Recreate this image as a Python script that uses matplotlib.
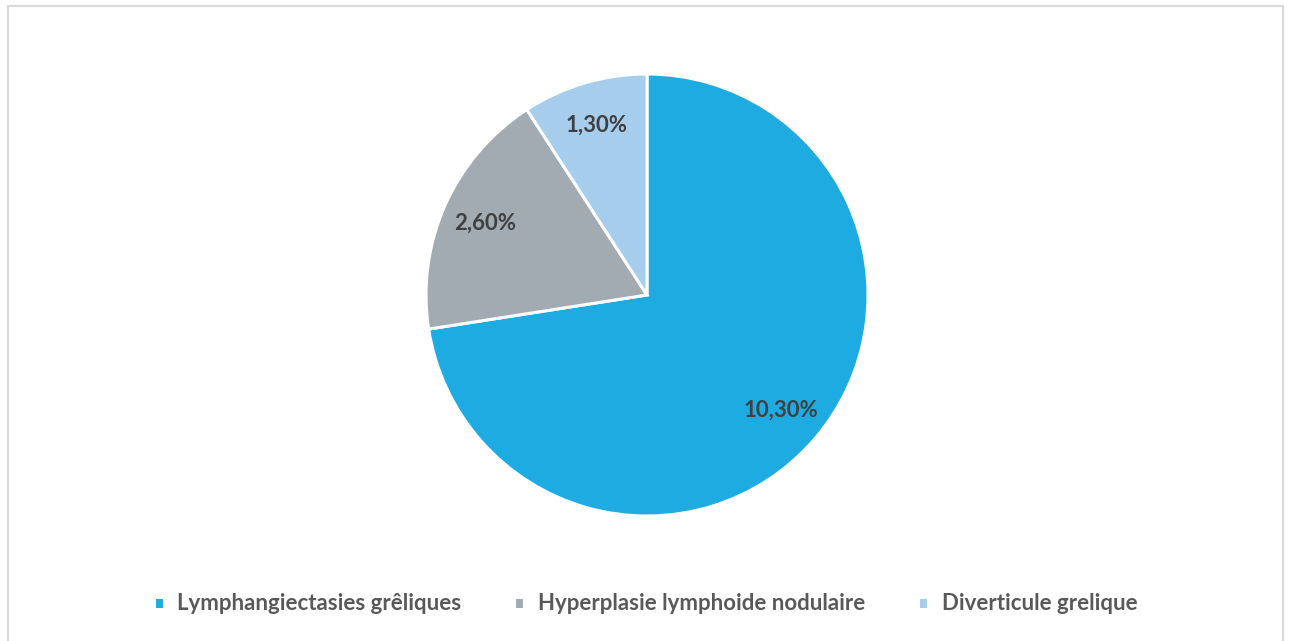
import matplotlib.pyplot as plt
from matplotlib.patches import Rectangle

# --- chart data ---
categories = ["Lymphangiectasies grêliques", "Hyperplasie lymphoide nodulaire", "Diverticule grelique"]
values = [10.30, 2.60, 1.30]
colors = ["#1DABE2", "#A2ABB1", "#A6CDEC"]

W, H = 1291, 641
plt.rcParams["font.family"] = ["Lato", "DejaVu Sans"]

fig = plt.figure(figsize=(W / 100, H / 100), dpi=100)

# light gray chart frame
fig.patches.append(Rectangle((8 / W, -0.01), (1283 - 8) / W, (H - 6) / H + 0.01,
                             transform=fig.transFigure, fill=False,
                             edgecolor="#D9D9D9", linewidth=1.5))

cx, cy, r = 647, 295, 221
ax = fig.add_axes([(cx - r) / W, (H - cy - r) / H, 2 * r / W, 2 * r / H])

total = sum(values)
wedges, texts, autotexts = ax.pie(
    values,
    colors=colors,
    startangle=90,
    counterclock=False,
    radius=1.0,
    autopct=lambda p: f"{p * total / 100:.2f}%".replace(".", ","),
    pctdistance=0.8,
    wedgeprops=dict(edgecolor="white", linewidth=2.2),
    textprops=dict(color="#404040", fontsize=16, fontweight="bold"),
)
ax.set_xlim(-1.0, 1.0)
ax.set_ylim(-1.0, 1.0)
ax.set_aspect("equal")
ax.axis("off")

leg = fig.legend(
    wedges, categories,
    loc="center", bbox_to_anchor=(0.5, (H - 604) / H),
    ncol=3, frameon=False,
    handlelength=0.45, handleheight=0.45, handletextpad=0.6,
    columnspacing=2.4,
    prop=dict(size=16, weight="bold"),
)
for t in leg.get_texts():
    t.set_color("#595959")

fig.savefig("out.png", dpi=100)
